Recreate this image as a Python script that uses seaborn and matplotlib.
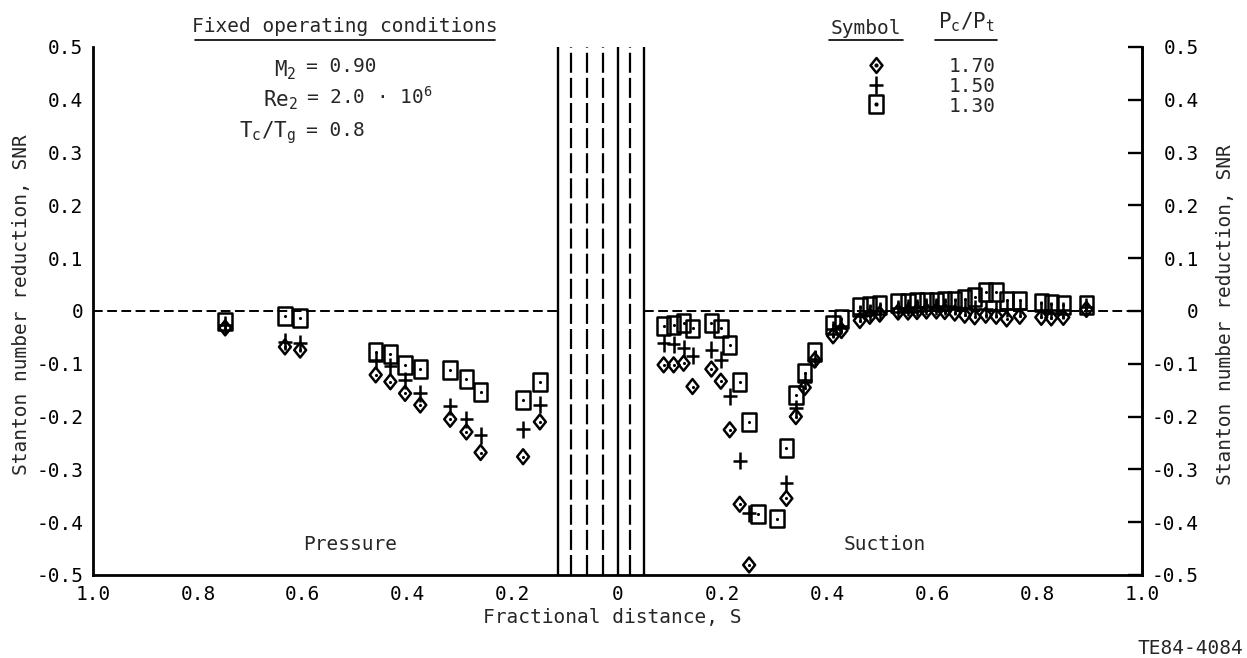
import numpy as np
import pandas as pd
import matplotlib
matplotlib.use("Agg")
import matplotlib.pyplot as plt
from matplotlib.path import Path
from matplotlib.lines import Line2D
import seaborn as sns

# ---------------- data ----------------
# Pressure side (fractional distance S, plotted to the left of the leading edge)
press_s = [0.748, 0.634, 0.605, 0.461, 0.433, 0.405, 0.376, 0.319, 0.288, 0.261, 0.180, 0.148]
press_170 = [-0.032, -0.068, -0.074, -0.121, -0.134, -0.156, -0.178, -0.205, -0.229, -0.268, -0.276, -0.210]
press_150 = [-0.026, -0.058, -0.061, -0.093, -0.105, -0.131, -0.156, -0.180, -0.205, -0.235, -0.224, -0.178]
press_130 = [-0.020, -0.009, -0.013, -0.077, -0.082, -0.102, -0.110, -0.112, -0.128, -0.153, -0.169, -0.134]

# Suction side
suct_s_tail = [0.411, 0.427, 0.462, 0.481, 0.500, 0.535, 0.554, 0.571, 0.589, 0.608, 0.624,
               0.643, 0.662, 0.681, 0.702, 0.722, 0.742, 0.767, 0.808, 0.827, 0.850, 0.894]
suct_s_170 = [0.088, 0.107, 0.126, 0.143, 0.179, 0.197, 0.214, 0.233, 0.251, 0.322, 0.340, 0.357, 0.376] + suct_s_tail
suct_170 = [-0.102, -0.102, -0.099, -0.143, -0.110, -0.133, -0.225, -0.366, -0.481, -0.355, -0.200, -0.145, -0.093,
            -0.047, -0.037, -0.018, -0.010, -0.006, -0.002, -0.002, -0.001, 0.000, 0.000, -0.001,
            -0.004, -0.008, -0.011, -0.008, -0.010, -0.015, -0.010, -0.012, -0.013, -0.012, 0.003]
suct_s_150 = list(suct_s_170)
suct_150 = [-0.061, -0.063, -0.071, -0.085, -0.073, -0.092, -0.161, -0.284, -0.383, -0.326, -0.184, -0.131, -0.090,
            -0.035, -0.028, -0.005, -0.002, 0.000, 0.005, 0.006, 0.007, 0.008, 0.008, 0.009,
            0.008, 0.006, 0.004, 0.003, 0.002, 0.004, 0.004, 0.002, 0.001, 0.001, 0.008]
suct_s_130 = [0.088, 0.107, 0.126, 0.143, 0.179, 0.197, 0.214, 0.233, 0.251, 0.268, 0.304, 0.322, 0.340, 0.357,
              0.376] + suct_s_tail
suct_130 = [-0.028, -0.026, -0.022, -0.033, -0.023, -0.033, -0.064, -0.134, -0.210, -0.385, -0.393, -0.260, -0.159,
            -0.118, -0.077,
            -0.027, -0.015, 0.007, 0.010, 0.012, 0.015, 0.015, 0.017, 0.018, 0.018, 0.019,
            0.020, 0.023, 0.027, 0.036, 0.036, 0.020, 0.020, 0.016, 0.014, 0.012, 0.012]

ratios = ["1.70", "1.50", "1.30"]

# coolant hole rows around the leading edge (signed S: pressure < 0 < suction)
rows_solid = [-0.113, 0.0, 0.050]
rows_dashed = [-0.088, -0.059, -0.028, 0.024]

x_ticks = [-1.0, -0.8, -0.6, -0.4, -0.2, 0.0, 0.2, 0.4, 0.6, 0.8, 1.0]
x_ticklabels = ["1.0", "0.8", "0.6", "0.4", "0.2", "0", "0.2", "0.4", "0.6", "0.8", "1.0"]
y_ticks = [0.5, 0.4, 0.3, 0.2, 0.1, 0.0, -0.1, -0.2, -0.3, -0.4, -0.5]
y_ticklabels = ["0.5", "0.4", "0.3", "0.2", "0.1", "0", "-0.1", "-0.2", "-0.3", "-0.4", "-0.5"]

# build long table
frames = []
for r, ps, pv, ss, sv in [
    ("1.70", press_s, press_170, suct_s_170, suct_170),
    ("1.50", press_s, press_150, suct_s_150, suct_150),
    ("1.30", press_s, press_130, suct_s_130, suct_130),
]:
    frames.append(pd.DataFrame({"ratio": r, "x": -np.asarray(ps), "snr": pv}))
    frames.append(pd.DataFrame({"ratio": r, "x": np.asarray(ss), "snr": sv}))
df = pd.concat(frames, ignore_index=True)

# ---------------- style ----------------
sns.set_theme(style="white")
plt.rcParams["font.family"] = ["DejaVu Sans Mono", "DejaVu Sans"]
plt.rcParams["mathtext.fontset"] = "custom"
plt.rcParams["mathtext.rm"] = "DejaVu Sans Mono"
plt.rcParams["mathtext.it"] = "DejaVu Sans Mono"
plt.rcParams["mathtext.default"] = "rm"
FS = 14

W, H = 1247, 658
fig = plt.figure(figsize=(W / 100, H / 100), dpi=100)
fig.patch.set_facecolor("white")
L, R, T, B = 93, 1142, 47, 575
ax = fig.add_axes([L / W, 1 - B / H, (R - L) / W, (B - T) / H])
ax.set_facecolor("white")


def P(x, y):
    return x / W, 1 - y / H


SQUARE = Path([(-0.75, -1), (0.75, -1), (0.75, 1), (-0.75, 1), (-0.75, -1)], closed=True)
DIAMOND = Path([(0, -1), (0.8, 0), (0, 1), (-0.8, 0), (0, -1)], closed=True)
PLUS = Path([(0, -1), (0, 1), (-0.8, 0), (0.8, 0)],
            [Path.MOVETO, Path.LINETO, Path.MOVETO, Path.LINETO])

marker_of = {"1.70": (DIAMOND, 115), "1.50": (PLUS, 150), "1.30": (SQUARE, 165)}
MEW = 1.8

for r in ratios:
    sub = df[df["ratio"] == r]
    mk, sz = marker_of[r]
    sns.scatterplot(data=sub, x="x", y="snr", marker=mk, s=sz, color="black",
                    facecolor="none", edgecolor="black", linewidth=MEW, ax=ax, zorder=3,
                    legend=False)
    if r != "1.50":
        sns.scatterplot(data=sub, x="x", y="snr", marker="o", s=5, color="black",
                        linewidth=0, ax=ax, zorder=4, legend=False)

# leading-edge hole rows
for xv in rows_solid:
    ax.axvline(xv, color="black", lw=1.7, zorder=2)
for xv in rows_dashed:
    ax.axvline(xv, color="black", lw=1.6, dashes=(9, 2.3), zorder=2)

# zero reference line (interrupted by hole region)
ax.plot([-1.0, rows_solid[0]], [0, 0], color="black", lw=1.4, dashes=(5, 2.3), zorder=1)
ax.plot([rows_solid[-1], 1.0], [0, 0], color="black", lw=1.4, dashes=(5, 2.3), zorder=1)

ax.set_xlim(-1.0, 1.0)
ax.set_ylim(-0.5, 0.5)
ax.set_xticks(x_ticks)
ax.set_xticklabels(x_ticklabels)
ax.set_yticks(y_ticks)
ax.set_yticklabels(y_ticklabels)
ax.set_xlabel("")
ax.set_ylabel("")
ax.tick_params(axis="both", direction="in", length=10, width=1.7, colors="black",
               labelsize=FS)
ax.tick_params(axis="x", pad=7)
ax.tick_params(axis="y", pad=7)
for side in ["left", "right", "bottom"]:
    ax.spines[side].set_visible(True)
    ax.spines[side].set_color("black")
    ax.spines[side].set_linewidth(2.0)
ax.spines["top"].set_visible(False)

sec = ax.secondary_yaxis("right")
sec.set_yticks(y_ticks)
sec.set_yticklabels(y_ticklabels)
sec.tick_params(direction="in", length=10, width=1.7, labelsize=FS, pad=41, colors="black")
for lab in sec.get_yticklabels():
    lab.set_horizontalalignment("right")
sec.spines["right"].set_linewidth(2.0)

# axis titles
fig.text(*P(22, 305), "Stanton number reduction, SNR", rotation=90, ha="center", va="center", fontsize=FS)
fig.text(*P(1226, 315), "Stanton number reduction, SNR", rotation=90, ha="center", va="center", fontsize=FS)
fig.text(*P(612, 618), "Fractional distance, S", ha="center", va="center", fontsize=FS)
fig.text(*P(1243, 648), "TE84-4084", ha="right", va="center", fontsize=FS)

# operating conditions block
SUB = 15
fig.text(*P(345, 27), "Fixed operating conditions", ha="center", va="center", fontsize=FS)
fig.add_artist(Line2D([195 / W, 495 / W], [1 - 40 / H] * 2, color="black", lw=1.2))
fig.text(*P(296, 70), "M$_2$", ha="right", va="center", fontsize=FS + 1)
fig.text(*P(306, 67), "= 0.90", ha="left", va="center", fontsize=FS)
fig.text(*P(298, 100), "Re$_2$", ha="right", va="center", fontsize=FS + 1)
fig.text(*P(306, 97), "= 2.0 \u00b7 10$^6$", ha="left", va="center", fontsize=FS)
fig.text(*P(296, 133), "T$_c$/T$_g$", ha="right", va="center", fontsize=FS + 1)
fig.text(*P(306, 130), "= 0.8", ha="left", va="center", fontsize=FS)

# symbol legend
fig.text(*P(866, 29), "Symbol", ha="center", va="center", fontsize=FS)
fig.add_artist(Line2D([829 / W, 903 / W], [1 - 40 / H] * 2, color="black", lw=1.2))
fig.text(*P(966, 22), "P$_c$/P$_t$", ha="center", va="center", fontsize=FS + 1)
fig.add_artist(Line2D([935 / W, 997 / W], [1 - 40 / H] * 2, color="black", lw=1.2))
leg_y = [65, 85, 104]
for r, yy in zip(ratios, leg_y):
    mk, sz = marker_of[r]
    fig.add_artist(Line2D([876 / W], [1 - yy / H], marker=mk, markersize=np.sqrt(sz),
                          mfc="none", mec="black", mew=MEW, ls="none"))
    if r != "1.50":
        fig.add_artist(Line2D([876 / W], [1 - yy / H], marker="o", markersize=2,
                              mfc="black", mec="black", ls="none"))
    fig.text(*P(949, yy + 2), r, ha="left", va="center", fontsize=FS)

# side labels
ax.text(-0.51, -0.443, "Pressure", ha="center", va="center", fontsize=FS)
ax.text(0.51, -0.443, "Suction", ha="center", va="center", fontsize=FS)

fig.savefig("out.png", dpi=100, facecolor="white")
